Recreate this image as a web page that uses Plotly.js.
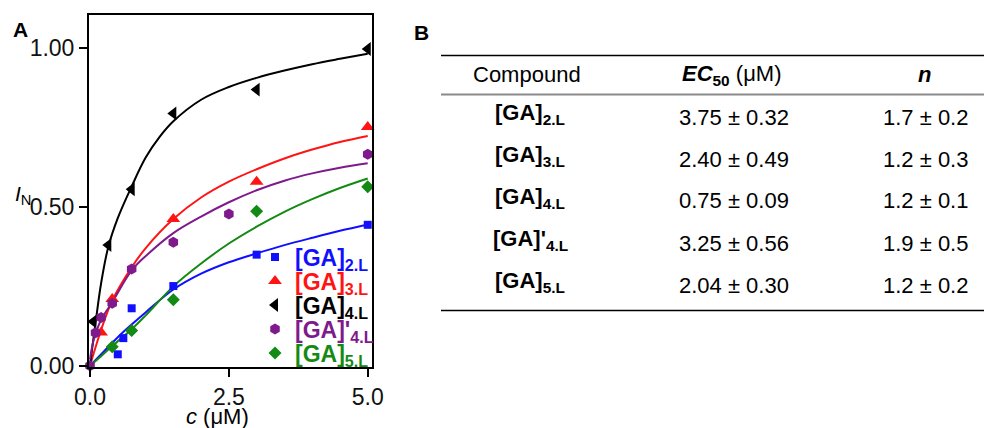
<!DOCTYPE html>
<html><head><meta charset="utf-8">
<script src="https://cdn.plot.ly/plotly-3.0.1.min.js"></script>
<style>html,body{margin:0;padding:0;background:#fff;}#chart{width:984px;height:428px;}</style>
</head><body><div id="chart"></div>
<script>
// ---------- data ----------
const seriesNames = ['[GA]<sub>2.L</sub>', '[GA]<sub>3.L</sub>', '[GA]<sub>4.L</sub>', "[GA]'<sub>4.L</sub>", '[GA]<sub>5.L</sub>'];

// measured points
const ga2X = [0.5, 0.6, 0.75, 1.5, 3, 5];
const ga2Y = [0.036, 0.087, 0.181, 0.251, 0.35, 0.444];
const ga3X = [0.2, 0.4, 1.5, 3, 5];
const ga3Y = [0.105, 0.21, 0.462, 0.58, 0.752];
const ga4X = [0.06, 0.33, 0.75, 1.5, 3, 5];
const ga4Y = [0.139, 0.38, 0.556, 0.795, 0.87, 0.998];
const ga4pX = [0, 0.1, 0.2, 0.4, 0.75, 1.5, 2.5, 5];
const ga4pY = [0, 0.104, 0.152, 0.197, 0.305, 0.389, 0.478, 0.666];
const ga5X = [0.4, 0.75, 1.5, 3, 5];
const ga5Y = [0.06, 0.111, 0.208, 0.487, 0.564];

// fitted curves
const fit2X = [0, 0.25, 0.5, 0.75, 1, 1.5, 2, 2.5, 3, 3.5, 4, 4.5, 5];
const fit2Y = [0, 0.045, 0.09, 0.13, 0.168, 0.24, 0.29, 0.326, 0.354, 0.38, 0.403, 0.425, 0.445];
const fit3X = [0, 0.1, 0.2, 0.4, 0.75, 1, 1.5, 2, 2.5, 3, 3.5, 4, 4.5, 5];
const fit3Y = [0, 0.058, 0.113, 0.205, 0.31, 0.37, 0.462, 0.53, 0.58, 0.619, 0.653, 0.681, 0.705, 0.724];
const fit4X = [0, 0.05, 0.1, 0.2, 0.33, 0.5, 0.75, 1, 1.25, 1.5, 2, 2.5, 3, 3.5, 4, 4.5, 5];
const fit4Y = [0, 0.07, 0.135, 0.26, 0.375, 0.465, 0.565, 0.655, 0.72, 0.77, 0.838, 0.878, 0.907, 0.93, 0.95, 0.967, 0.983];
const fit4pX = [0, 0.05, 0.1, 0.2, 0.4, 0.75, 1, 1.5, 2, 2.5, 3, 3.5, 4, 4.5, 5];
const fit4pY = [0.02, 0.07, 0.1, 0.145, 0.2, 0.3, 0.345, 0.418, 0.47, 0.515, 0.553, 0.583, 0.606, 0.624, 0.638];
const fit5X = [0, 0.2, 0.4, 0.75, 1, 1.5, 2, 2.5, 3, 3.5, 4, 4.5, 5];
const fit5Y = [0, 0.03, 0.062, 0.115, 0.158, 0.25, 0.322, 0.385, 0.438, 0.485, 0.525, 0.56, 0.59];

const xTickVals = [0, 2.5, 5];
const xTickText = ['0.0', '2.5', '5.0'];
const yTickVals = [0, 0.5, 1];
const yTickText = ['0.00', '0.50', '1.00'];

// table
const tableHeaders = ['Compound', '<b><i>EC</i><sub>50</sub></b> (μM)', '<b><i>n</i></b>'];
const tableCompounds = seriesNames;
const ec50Values = ['3.75 ± 0.32', '2.40 ± 0.49', '0.75 ± 0.09', '3.25 ± 0.56', '2.04 ± 0.30'];
const nValues = ['1.7 ± 0.2', '1.2 ± 0.3', '1.2 ± 0.1', '1.9 ± 0.5', '1.2 ± 0.2'];

// ---------- styles ----------
const colors = ['#1010ff', '#ff1414', '#000000', '#7f1a8c', '#138a13'];
const symbols = ['square', 'triangle-up', 'triangle-left', 'hexagon', 'diamond'];
const msizes = [8, 12, 12, 11, 10];
const FONT = 'Liberation Sans, Arial, sans-serif';

const W = 984, H = 428, ML = 89, MT = 15, MB = 61;
const PW = W - ML, PH = H - MT - MB;
const px2paperX = p => (p - ML) / PW;
const px2paperY = p => (H - MB - p) / PH;

const pts = [[ga2X, ga2Y], [ga3X, ga3Y], [ga4X, ga4Y], [ga4pX, ga4pY], [ga5X, ga5Y]];
const fits = [[fit2X, fit2Y], [fit3X, fit3Y], [fit4X, fit4Y], [fit4pX, fit4pY], [fit5X, fit5Y]];

const traces = [];
fits.forEach((f, i) => {
  traces.push({x: f[0], y: f[1], mode: 'lines', line: {color: colors[i], width: 2, shape: 'spline', smoothing: 1},
    showlegend: false, hoverinfo: 'skip', cliponaxis: true});
});
const legendCenters = [257, 281, 305, 329, 353];
const legends = {};
pts.forEach((p, i) => {
  const lname = i === 0 ? 'legend' : 'legend' + (i + 1);
  traces.push({x: p[0], y: p[1], mode: 'markers', name: '<b>' + seriesNames[i] + '</b>',
    marker: {symbol: symbols[i], size: msizes[i], color: colors[i]}, legend: lname, cliponaxis: false});
  legends[lname] = {x: px2paperX(255), y: px2paperY(legendCenters[i]), xanchor: 'left', yanchor: 'middle',
    bgcolor: 'rgba(0,0,0,0)', borderwidth: 0, itemwidth: 30, tracegroupgap: 0,
    font: {family: FONT, size: 23, color: colors[i]}};
});

const ann = [];
ann.push({xref: 'paper', yref: 'paper', x: px2paperX(20), y: px2paperY(29), text: '<b>A</b>', showarrow: false,
  font: {family: FONT, size: 21, color: '#000'}, xanchor: 'center', yanchor: 'middle'});
ann.push({xref: 'paper', yref: 'paper', x: px2paperX(421), y: px2paperY(32), text: '<b>B</b>', showarrow: false,
  font: {family: FONT, size: 21, color: '#000'}, xanchor: 'center', yanchor: 'middle'});
ann.push({xref: 'paper', yref: 'paper', x: px2paperX(23), y: px2paperY(195), text: '<i>I</i><sub>N</sub>', showarrow: false,
  font: {family: FONT, size: 21, color: '#000'}, xanchor: 'center', yanchor: 'middle'});
ann.push({xref: 'paper', yref: 'paper', x: px2paperX(217), y: px2paperY(416), text: '<i>c</i> (μM)', showarrow: false,
  font: {family: FONT, size: 22, color: '#000'}, xanchor: 'center', yanchor: 'middle'});

const colX = [527, 731, 924];
const headerY = 75;
const rowY = [117, 159, 201, 243, 285];
tableHeaders.forEach((t, j) => ann.push({xref: 'paper', yref: 'paper', x: px2paperX(colX[j]), y: px2paperY(headerY), text: t,
  showarrow: false, font: {family: FONT, size: 22, color: '#000'}, xanchor: 'center', yanchor: 'middle'}));
tableCompounds.forEach((t, r) => {
  ann.push({xref: 'paper', yref: 'paper', x: px2paperX(530), y: px2paperY(rowY[r] - 3), text: '<b>' + t + '</b>',
    showarrow: false, font: {family: FONT, size: 22, color: '#000'}, xanchor: 'center', yanchor: 'middle'});
  ann.push({xref: 'paper', yref: 'paper', x: px2paperX(734), y: px2paperY(rowY[r]), text: ec50Values[r],
    showarrow: false, font: {family: FONT, size: 22, color: '#000'}, xanchor: 'center', yanchor: 'middle'});
  ann.push({xref: 'paper', yref: 'paper', x: px2paperX(925), y: px2paperY(rowY[r]), text: nValues[r],
    showarrow: false, font: {family: FONT, size: 22, color: '#000'}, xanchor: 'center', yanchor: 'middle'});
});

const shapes = [
  {type: 'line', xref: 'paper', yref: 'paper', x0: px2paperX(441), x1: 1, y0: px2paperY(55.5), y1: px2paperY(55.5), line: {color: '#000', width: 1.5}},
  {type: 'line', xref: 'paper', yref: 'paper', x0: px2paperX(441), x1: 1, y0: px2paperY(94.5), y1: px2paperY(94.5), line: {color: '#8a8a8a', width: 2}},
  {type: 'line', xref: 'paper', yref: 'paper', x0: px2paperX(441), x1: 1, y0: px2paperY(310.5), y1: px2paperY(310.5), line: {color: '#000', width: 1.5}}
];

const axisCommon = {showgrid: false, zeroline: false, showline: true, linecolor: '#000', linewidth: 2, mirror: true,
  ticks: 'outside', ticklen: 8, tickwidth: 2, tickcolor: '#000', tickfont: {family: FONT, size: 23, color: '#111'}, fixedrange: true};

const layout = Object.assign({
  width: W, height: H,
  margin: {l: ML, r: 0, t: MT, b: MB, pad: 0},
  paper_bgcolor: '#fff', plot_bgcolor: '#fff',
  xaxis: Object.assign({}, axisCommon, {domain: [0, 283 / PW], range: [-0.018, 5.077], tickmode: 'array', tickvals: xTickVals, ticktext: xTickText}),
  yaxis: Object.assign({}, axisCommon, {domain: [0, 1], range: [-0.004, 1.105], tickmode: 'array', tickvals: yTickVals, ticktext: yTickText}),
  annotations: ann, shapes: shapes, showlegend: true
}, legends);

Plotly.newPlot('chart', traces, layout, {staticPlot: true, displayModeBar: false});
</script></body></html>
